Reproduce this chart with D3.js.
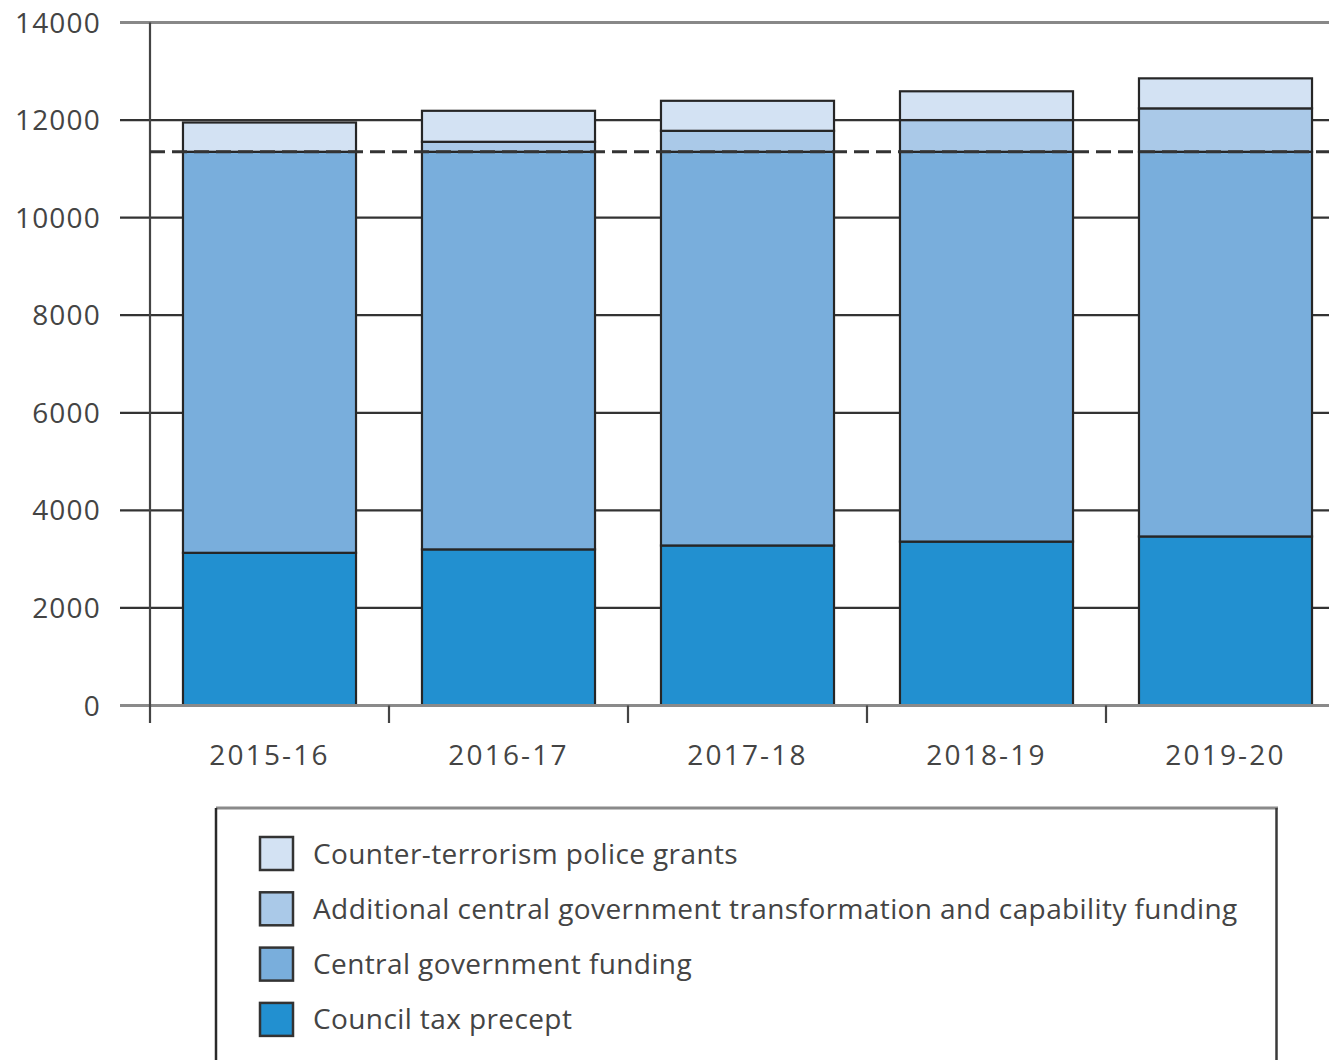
<!DOCTYPE html>
<html>
<head>
<meta charset="utf-8">
<script src="https://cdn.jsdelivr.net/npm/d3@7"></script>
<style>
  html, body { margin: 0; padding: 0; background: #fff; }
  svg { display: block; }
  text { font-family: "Open Sans", "Noto Sans", sans-serif; fill: #444; }
</style>
</head>
<body>
<div id="chart"></div>
<script>
// ---------------- data ----------------
const years = ['2015-16', '2016-17', '2017-18', '2018-19', '2019-20'];
const councilTax = [3130, 3200, 3280, 3360, 3465];
const centralFunding = [8220, 8150, 8070, 7990, 7885];
const additionalFunding = [0, 205, 430, 650, 890];
const ctGrants = [600, 635, 615, 590, 615];
const baseline = 11350;           // dashed reference line
const yTicks = [0, 2000, 4000, 6000, 8000, 10000, 12000, 14000];

const seriesKeys = ['council', 'central', 'additional', 'ct'];
const seriesNames = {
  ct: 'Counter-terrorism police grants',
  additional: 'Additional central government transformation and capability funding',
  central: 'Central government funding',
  council: 'Council tax precept'
};
const colors = { council: '#2290d0', central: '#79aedc', additional: '#aac9e8', ct: '#d3e2f3' };

const rows = years.map((y, i) => ({
  year: y,
  council: councilTax[i],
  central: centralFunding[i],
  additional: additionalFunding[i],
  ct: ctGrants[i]
}));

// ---------------- layout ----------------
const W = 1329, H = 1060;
const plot = { left: 150, top: 22.5, bottom: 705.5 };
const step = 239;

const svg = d3.select('#chart').append('svg')
  .attr('width', W).attr('height', H);

const x = d3.scaleBand()
  .domain(years)
  .range([plot.left, plot.left + step * years.length])
  .padding(0);
const barW = x.bandwidth() * 0.724;

const y = d3.scaleLinear()
  .domain([0, 14000])
  .range([plot.bottom, plot.top]);

// gridlines (behind bars)
svg.append('g')
  .selectAll('line')
  .data(yTicks.filter(t => t > 0))
  .enter().append('line')
  .attr('x1', 120).attr('x2', W)
  .attr('y1', d => y(d)).attr('y2', d => y(d))
  .attr('stroke', d => d === 14000 ? '#888' : '#333')
  .attr('stroke-width', d => d === 14000 ? 3 : 2.2);

// y axis labels
svg.append('g')
  .selectAll('text')
  .data(yTicks)
  .enter().append('text')
  .attr('x', 101)
  .attr('y', d => y(d))
  .attr('dy', '0.36em')
  .attr('text-anchor', 'end')
  .style('font-size', '28px')
  .style('letter-spacing', '1.2px')
  .text(d => d);

// stacked bars
const stack = d3.stack().keys(seriesKeys);
const layers = stack(rows);

const layerG = svg.append('g')
  .selectAll('g')
  .data(layers)
  .enter().append('g')
  .attr('fill', d => colors[d.key]);

layerG.selectAll('rect')
  .data(d => d.filter(s => s[1] - s[0] > 0))
  .enter().append('rect')
  .attr('x', d => x(d.data.year) + (x.bandwidth() - barW) / 2)
  .attr('width', barW)
  .attr('y', d => y(d[1]))
  .attr('height', d => y(d[0]) - y(d[1]))
  .attr('stroke', '#262626')
  .attr('stroke-width', 2.2);

// x axis baseline
svg.append('line')
  .attr('x1', 120).attr('x2', W)
  .attr('y1', y(0)).attr('y2', y(0))
  .attr('stroke', '#8a8a8a')
  .attr('stroke-width', 3);

// y axis line
svg.append('line')
  .attr('x1', plot.left).attr('x2', plot.left)
  .attr('y1', plot.top).attr('y2', 723)
  .attr('stroke', '#444')
  .attr('stroke-width', 2.2);

// category ticks at band boundaries
svg.append('g')
  .selectAll('line')
  .data(years.slice(1))
  .enter().append('line')
  .attr('x1', d => x(d)).attr('x2', d => x(d))
  .attr('y1', y(0)).attr('y2', 723)
  .attr('stroke', '#444')
  .attr('stroke-width', 2.2);

// category labels
svg.append('g')
  .selectAll('text')
  .data(years)
  .enter().append('text')
  .attr('x', d => x(d) + x.bandwidth() / 2)
  .attr('y', 755)
  .attr('dy', '0.36em')
  .attr('text-anchor', 'middle')
  .style('font-size', '28px')
  .style('letter-spacing', '2.2px')
  .text(d => d);

// dashed baseline
svg.append('line')
  .attr('x1', plot.left).attr('x2', W)
  .attr('y1', y(baseline)).attr('y2', y(baseline))
  .attr('stroke', '#333')
  .attr('stroke-width', 3)
  .attr('stroke-dasharray', '15,7');

// ---------------- legend ----------------
const legend = svg.append('g');
legend.append('line')
  .attr('x1', 216).attr('x2', 1278).attr('y1', 808).attr('y2', 808)
  .attr('stroke', '#8a8a8a').attr('stroke-width', 3);
legend.append('line')
  .attr('x1', 216).attr('x2', 216).attr('y1', 808).attr('y2', H)
  .attr('stroke', '#2a2a2a').attr('stroke-width', 2.5);
legend.append('line')
  .attr('x1', 1276.5).attr('x2', 1276.5).attr('y1', 808).attr('y2', H)
  .attr('stroke', '#3a3a3a').attr('stroke-width', 2.5);

const legendOrder = ['ct', 'additional', 'central', 'council'];
const item = legend.selectAll('g.item')
  .data(legendOrder)
  .enter().append('g')
  .attr('class', 'item')
  .attr('transform', (d, i) => `translate(260,${837 + i * 55.3})`);

item.append('rect')
  .attr('width', 33).attr('height', 33)
  .attr('fill', d => colors[d])
  .attr('stroke', '#333')
  .attr('stroke-width', 2.5);

item.append('text')
  .attr('x', 53)
  .attr('y', 16.5)
  .attr('dy', '0.36em')
  .style('font-size', '28px')
  .style('letter-spacing', '0.4px')
  .text(d => seriesNames[d]);
</script>
</body>
</html>
